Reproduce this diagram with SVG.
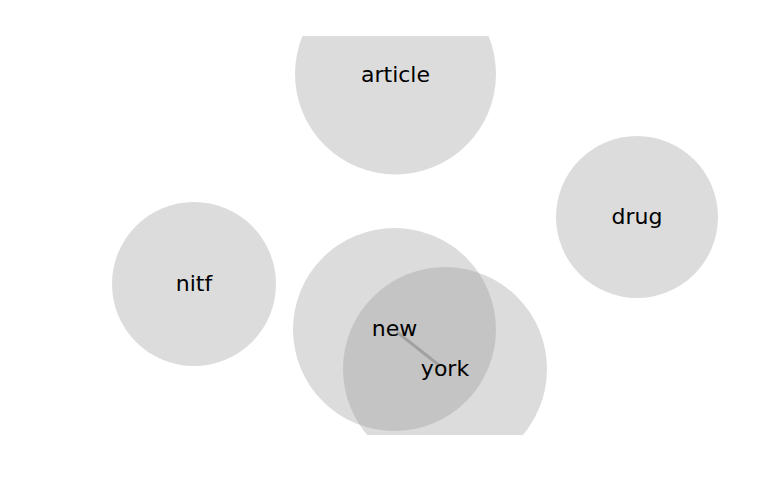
<svg xmlns="http://www.w3.org/2000/svg" width="768" height="500" viewBox="0 0 768 500">
<style>
.n circle{fill:#969696;fill-opacity:0.33}
.n text{font-family:"DejaVu Sans",sans-serif;font-size:22px;fill:#000;text-anchor:middle}
.e line{stroke:#999;stroke-width:3;stroke-opacity:0.8}
</style>
<defs><clipPath id="c"><rect x="0" y="36" width="768" height="399"/></clipPath></defs>
<rect width="768" height="500" fill="#fff"/>
<g clip-path="url(#c)">
<g class="n" id="article"><circle cx="395.5" cy="74" r="100.5"/></g>
<g class="n" id="drug"><circle cx="637" cy="217" r="81"/></g>
<g class="n" id="nitf"><circle cx="194" cy="284" r="82"/></g>
<g class="n" id="new"><circle cx="394.5" cy="329.5" r="101.5"/></g>
<g class="n" id="york"><circle cx="445" cy="369" r="102"/></g>
<g class="e" id="edges"><line x1="397" y1="332" x2="440" y2="366"/></g>
<g class="n"><text x="395.5" y="81.5">article</text>
<text x="637" y="224">drug</text>
<text x="194" y="290.5">nitf</text>
<text x="394.5" y="336">new</text>
<text x="445" y="376">york</text></g>
</g>
</svg>
